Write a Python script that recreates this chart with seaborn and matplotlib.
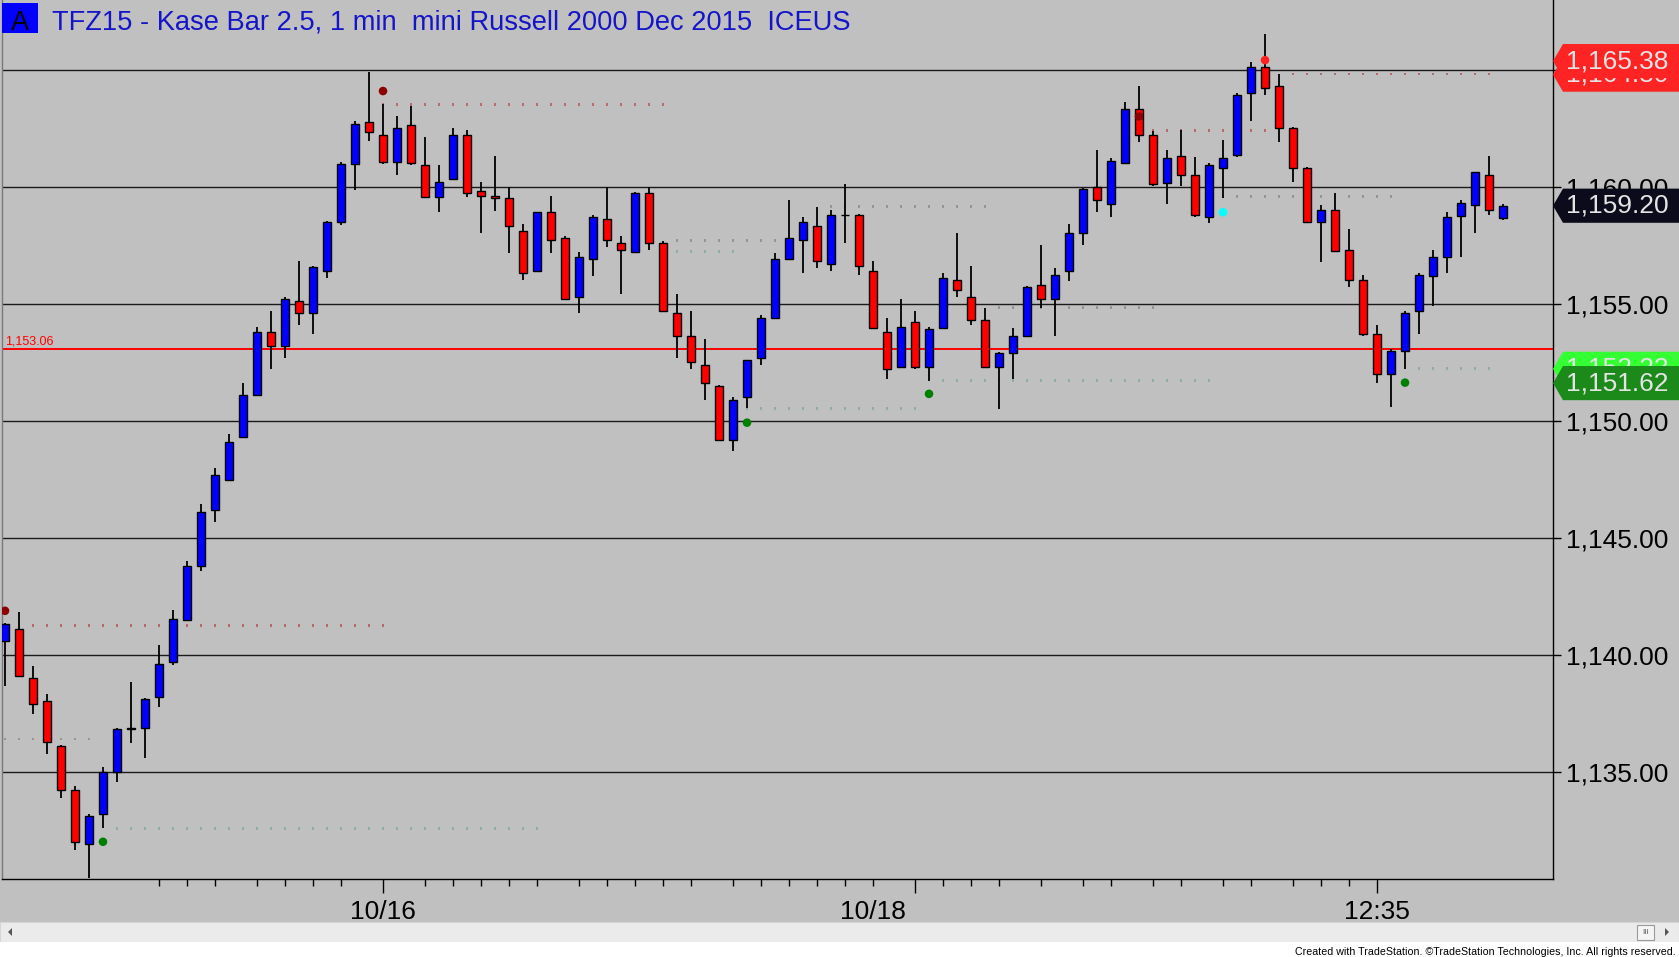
import numpy as np
import pandas as pd
import seaborn as sns
import matplotlib
matplotlib.use("Agg")
import matplotlib.pyplot as plt
import matplotlib.transforms as mtransforms
from matplotlib.patches import Polygon, Rectangle

# ---- bar data (1 min Kase bars, TFZ15) ----
opens = [1140.61, 1141.12, 1139.00, 1138.03, 1136.11, 1134.23, 1131.91, 1133.19, 1134.99, 1136.84,
         1136.90, 1138.22, 1139.71, 1141.50, 1143.80, 1146.20, 1147.50, 1149.33, 1151.11, 1153.82,
         1153.22, 1155.13, 1154.60, 1156.41, 1158.49, 1161.00, 1162.79, 1162.22, 1161.08, 1162.65,
         1160.93, 1159.59, 1160.33, 1162.21, 1159.83, 1159.62, 1159.53, 1158.12, 1156.41, 1158.93,
         1157.82, 1155.29, 1156.91, 1158.62, 1157.61, 1157.21, 1159.73, 1157.60, 1154.60, 1153.63,
         1152.40, 1151.50, 1149.19, 1151.01, 1152.71, 1154.39, 1156.91, 1157.72, 1158.34, 1156.71,
         1158.80, 1158.81, 1156.41, 1153.81, 1152.31, 1154.22, 1152.31, 1153.99, 1156.03, 1155.29,
         1154.32, 1152.31, 1152.92, 1153.64, 1155.81, 1155.22, 1156.41, 1158.02, 1160.02, 1159.29,
         1161.01, 1163.32, 1162.21, 1160.19, 1161.33, 1160.50, 1158.71, 1160.80, 1161.37, 1164.01,
         1165.12, 1164.32, 1162.51, 1160.80, 1158.51, 1159.01, 1157.31, 1156.03, 1153.72, 1152.01,
         1153.00, 1154.70, 1156.21, 1157.00, 1158.78, 1159.22, 1160.52, 1158.69]
highs = [1141.35, 1141.82, 1139.53, 1138.33, 1136.15, 1134.40, 1133.20, 1135.20, 1136.90, 1138.85,
         1138.15, 1140.43, 1141.92, 1144.02, 1146.44, 1148.00, 1149.43, 1151.61, 1154.03, 1154.71,
         1155.31, 1156.85, 1156.62, 1158.55, 1161.05, 1162.82, 1164.93, 1163.55, 1163.03, 1163.44,
         1162.13, 1160.94, 1162.51, 1162.44, 1160.23, 1161.33, 1160.02, 1158.42, 1158.95, 1159.62,
         1157.91, 1157.22, 1158.81, 1160.02, 1157.91, 1159.80, 1160.02, 1157.70, 1155.43, 1154.72,
         1153.52, 1151.55, 1151.01, 1152.61, 1154.53, 1157.20, 1159.45, 1158.73, 1159.16, 1159.02,
         1160.13, 1158.85, 1156.85, 1154.42, 1155.22, 1154.72, 1154.03, 1156.31, 1158.05, 1156.64,
         1154.82, 1152.95, 1153.96, 1155.79, 1157.52, 1156.53, 1158.41, 1159.95, 1161.56, 1161.23,
         1163.62, 1164.33, 1162.41, 1161.56, 1162.44, 1161.26, 1161.01, 1162.01, 1164.03, 1165.36,
         1166.54, 1164.83, 1162.55, 1160.85, 1159.23, 1159.76, 1158.21, 1156.23, 1154.11, 1153.07,
         1154.68, 1156.34, 1157.31, 1158.92, 1159.45, 1160.66, 1161.33, 1159.26]
lows = [1138.68, 1139.10, 1137.47, 1135.77, 1133.90, 1131.67, 1130.48, 1132.59, 1134.57, 1136.22,
        1135.61, 1137.79, 1139.57, 1141.45, 1143.60, 1145.70, 1147.45, 1149.30, 1151.05, 1152.21,
        1152.68, 1154.10, 1153.70, 1156.10, 1158.38, 1159.87, 1161.98, 1161.00, 1160.51, 1160.94,
        1159.52, 1158.92, 1160.30, 1159.59, 1158.02, 1158.99, 1157.20, 1156.03, 1156.40, 1157.20,
        1155.20, 1154.60, 1156.20, 1157.42, 1155.42, 1157.20, 1157.30, 1154.70, 1152.71, 1152.22,
        1150.90, 1149.15, 1148.72, 1150.54, 1152.40, 1154.35, 1156.90, 1156.31, 1156.53, 1156.41,
        1157.60, 1156.24, 1153.92, 1151.78, 1152.25, 1152.22, 1151.71, 1153.92, 1155.29, 1154.11,
        1152.25, 1150.52, 1151.78, 1153.60, 1154.82, 1153.64, 1156.00, 1157.51, 1158.91, 1158.71,
        1161.00, 1161.91, 1160.05, 1159.29, 1160.05, 1158.71, 1158.48, 1159.52, 1161.30, 1162.80,
        1163.92, 1161.91, 1160.20, 1158.51, 1156.81, 1157.21, 1155.74, 1153.64, 1151.61, 1150.59,
        1152.23, 1153.71, 1154.92, 1156.31, 1157.00, 1158.02, 1158.81, 1158.59]
closes = [1141.32, 1139.12, 1137.89, 1136.30, 1134.22, 1132.00, 1133.12, 1134.99, 1136.84, 1136.90,
          1138.11, 1139.60, 1141.52, 1143.82, 1146.12, 1147.69, 1149.12, 1151.11, 1153.82, 1153.22,
          1155.21, 1154.60, 1156.58, 1158.52, 1161.00, 1162.71, 1162.34, 1161.08, 1162.51, 1161.01,
          1159.59, 1160.20, 1162.21, 1159.73, 1159.62, 1159.53, 1158.34, 1156.31, 1158.93, 1157.72,
          1155.20, 1157.01, 1158.73, 1157.72, 1157.30, 1159.73, 1157.60, 1154.70, 1153.63, 1152.54,
          1151.61, 1149.19, 1150.90, 1152.60, 1154.42, 1156.91, 1157.81, 1158.49, 1156.83, 1158.81,
          1158.82, 1156.63, 1153.99, 1152.22, 1154.03, 1152.31, 1153.95, 1156.11, 1155.60, 1154.32,
          1152.31, 1152.92, 1153.64, 1155.71, 1155.22, 1156.24, 1158.02, 1159.92, 1159.45, 1161.11,
          1163.32, 1162.21, 1160.12, 1161.23, 1160.50, 1158.79, 1160.94, 1161.23, 1163.92, 1165.12,
          1164.22, 1162.51, 1160.80, 1158.51, 1159.01, 1157.28, 1156.03, 1153.71, 1152.01, 1153.00,
          1154.60, 1156.24, 1157.00, 1158.71, 1159.31, 1160.63, 1159.00, 1159.20]

# ---- Kase signal dots ----
sig_bar = [0, 27, 81, 90, 7, 53, 66, 100, 87]
sig_price = [1141.89, 1164.10, 1163.01, 1165.42, 1132.02, 1149.93, 1151.16, 1151.64, 1158.92]
sig_kind = ["peak", "peak", "peak", "peak_live", "trough", "trough", "trough", "trough", "warn"]

# ---- Kase dev-stop dotted lines ----
stop_price = [1141.25, 1136.41, 1132.60, 1163.54, 1157.70, 1157.24, 1150.52,
              1159.16, 1154.85, 1151.73, 1162.42, 1159.59, 1164.83, 1152.23]
stop_first = [2, 0, 8, 27, 48, 48, 53, 59, 71, 67, 82, 87, 92, 101]
stop_last = [27, 6, 38, 47, 55, 52, 65, 70, 82, 86, 90, 99, 106, 106]
stop_kind = ["short", "flat", "long", "short", "flat", "long", "long",
             "flat", "flat", "long", "short", "flat", "short", "long"]

grid_prices = [1135, 1140, 1145, 1150, 1155, 1160, 1165]
ref_price = 1153.06
tag_prices = [1164.80, 1165.38, 1159.20, 1152.23, 1151.62]
tag_text = ["1,164.80", "1,165.38", "1,159.20", "1,152.23", "1,151.62"]
tag_fill = ["#ff2424", "#ff2424", "#0b0b1c", "#33ff33", "#1b8a1b"]

minor_bars = [11, 13, 15, 18, 20, 22, 24, 30, 32, 34, 36, 38, 41, 43, 45, 47, 49, 52, 54,
              56, 58, 60, 62, 67, 69, 71, 74, 77, 79, 82, 84, 87, 89, 92, 94, 96]
major_bars = [27, 65, 98]
date_bars = [27, 62, 98]
date_labels = ["10/16", "10/18", "12:35"]

TITLE = "TFZ15 - Kase Bar 2.5, 1 min  mini Russell 2000 Dec 2015  ICEUS"
BG = "#c0c0c0"

sns.set_theme(style="white", rc={"axes.facecolor": BG, "figure.facecolor": BG})
plt.rcParams["font.family"] = ["Liberation Sans", "DejaVu Sans"]

W, H = 1679, 957


def fx(px):
    return px / W


def fy(py):
    return 1 - py / H


fig = plt.figure(figsize=(W / 100, H / 100), dpi=100)
ax = fig.add_axes([fx(2), fy(879), (1553 - 2) / W, 879 / H])
ax.set_facecolor(BG)

df = pd.DataFrame({"o": opens, "h": highs, "l": lows, "c": closes})
df["bar"] = np.arange(len(df))
df["up"] = df["c"] > df["o"]

# grid + reference line
for p in grid_prices:
    ax.axhline(p, color="#1a1a1a", lw=1.0, zorder=1)
ax.axhline(ref_price, color="#ff0000", lw=1.4, zorder=1)
ax.text(0.002, ref_price + 0.08, "1,153.06", color="#ff0000", fontsize=9,
        transform=mtransforms.blended_transform_factory(ax.transAxes, ax.transData),
        va="bottom", ha="left")

# stop lines as dotted markers, one per bar
rows = []
for p, a, b, k in zip(stop_price, stop_first, stop_last, stop_kind):
    for i in range(a, b + 1):
        rows.append((i, p, k))
stops = pd.DataFrame(rows, columns=["bar", "price", "kind"])
sns.scatterplot(data=stops, x="bar", y="price", hue="kind", ax=ax, legend=False,
                palette={"short": "#b86a6a", "flat": "#959595", "long": "#8fae9c"},
                s=4, marker="s", linewidth=0, zorder=2)

# candles
ax.vlines(df["bar"], df["l"], df["h"], color="black", lw=1.3, zorder=3)
body_lo = df[["o", "c"]].min(axis=1)
body_h = (df["c"] - df["o"]).abs()
ax.bar(df["bar"], body_h, bottom=body_lo, width=0.56,
       color=np.where(df["up"], "#0000ff", "#ff0000"), edgecolor="black",
       linewidth=1.0, zorder=4)

# signal dots
sig = pd.DataFrame({"bar": sig_bar, "price": sig_price, "kind": sig_kind})
sns.scatterplot(data=sig, x="bar", y="price", hue="kind", ax=ax, legend=False,
                palette={"peak": "#8b0000", "peak_live": "#ff2020",
                         "trough": "#008000", "warn": "#00ffff"},
                s=38, linewidth=0, zorder=5)

ax.set_xlim(-0.214, 110.57)
ax.set_ylim(1130.43, 1167.99)
ax.set_xlabel("")
ax.set_ylabel("")

# axes frame
ax.spines["top"].set_visible(False)
ax.spines["left"].set_color("#7a7a7a")
ax.spines["right"].set_color("black")
ax.spines["bottom"].set_color("black")
for s in ("left", "right", "bottom"):
    ax.spines[s].set_linewidth(1.0)

ax.yaxis.tick_right()
ax.set_yticks(grid_prices)
ax.set_yticklabels([f"{p:,.2f}" for p in grid_prices])
ax.tick_params(axis="y", which="both", right=True, left=False, length=6, width=1,
               color="black", pad=3, labelsize=19, labelcolor="black")

ax.set_xticks(major_bars)
ax.set_xticklabels([])
ax.set_xticks(minor_bars, minor=True)
ax.tick_params(axis="x", which="major", direction="out", length=10, width=1, color="black", bottom=True)
ax.tick_params(axis="x", which="minor", direction="out", length=5, width=1, color="black", bottom=True)

xlab_tr = mtransforms.blended_transform_factory(ax.transData, fig.transFigure)
for b, lab in zip(date_bars, date_labels):
    ax.text(b, fy(919), lab, transform=xlab_tr, ha="center", va="baseline",
            fontsize=19, color="black", clip_on=False)

# price tags on the right scale, later tags drawn over earlier ones
tag_tr = mtransforms.blended_transform_factory(fig.transFigure, ax.transData)
hh = 0.73
for k, (p, t, c) in enumerate(zip(tag_prices, tag_text, tag_fill)):
    pts = [(fx(1553), p), (fx(1563), p + hh), (1.0, p + hh), (1.0, p - hh), (fx(1563), p - hh)]
    fig.add_artist(Polygon(pts, closed=True, transform=tag_tr, facecolor=c,
                           edgecolor="none", zorder=1 + 0.1 * k))
    fig.add_artist(plt.Text(fx(1566), p, t, transform=tag_tr, va="center", ha="left",
                            fontsize=19, color="#e4e4e4", zorder=1.05 + 0.1 * k))

# title block
fig.add_artist(Rectangle((fx(2), fy(33)), fx(36), 30 / H, transform=fig.transFigure,
                         facecolor="#0000ff", edgecolor="none", zorder=1))
fig.text(fx(20), fy(29.5), "A", ha="center", va="baseline", fontsize=19.5, color="black")
fig.text(fx(52), fy(29.5), TITLE, ha="left", va="baseline", fontsize=19.6, color="#1414c8")

# scrollbar strip and footer
fig.add_artist(Rectangle((0, fy(942)), 1, 20 / H, transform=fig.transFigure,
                         facecolor="#ebebeb", edgecolor="#d6d6d6", lw=0.8, zorder=1))
fig.add_artist(Rectangle((0, 0), 1, 15 / H, transform=fig.transFigure,
                         facecolor="white", edgecolor="none", zorder=1))
fig.add_artist(Polygon([(fx(8), fy(932)), (fx(12), fy(928)), (fx(12), fy(936))],
                       transform=fig.transFigure, facecolor="#555555", edgecolor="none", zorder=2))
fig.add_artist(Rectangle((fx(1637), fy(940)), 17 / W, 15 / H, transform=fig.transFigure,
                         facecolor="#f4f4f4", edgecolor="#9a9a9a", lw=0.8, zorder=2))
fig.text(fx(1645.5), fy(932.5), "III", ha="center", va="center", fontsize=6, color="#666666")
fig.add_artist(Polygon([(fx(1669), fy(932)), (fx(1665), fy(928)), (fx(1665), fy(936))],
                       transform=fig.transFigure, facecolor="#555555", edgecolor="none", zorder=2))
fig.text(fx(1676), fy(955), "Created with TradeStation. \u00a9TradeStation Technologies, Inc. All rights reserved.",
         ha="right", va="baseline", fontsize=7.7, color="black",
         family=["Liberation Sans Narrow", "Liberation Sans", "DejaVu Sans"])

fig.savefig("out.png", dpi=100, facecolor=BG)
